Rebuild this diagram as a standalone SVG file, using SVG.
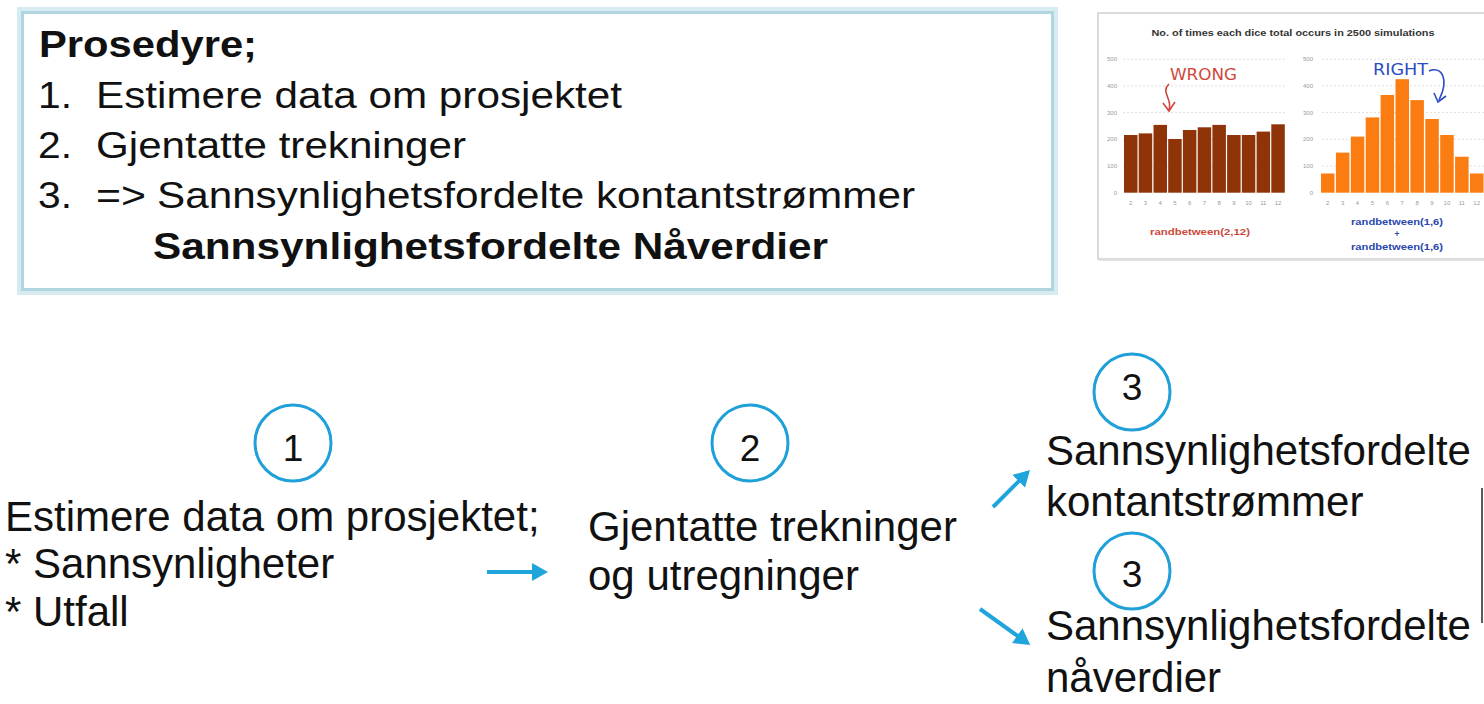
<svg xmlns="http://www.w3.org/2000/svg" width="1484" height="704" viewBox="0 0 1484 704">
<defs>
<style>
.t{font-family:"Liberation Sans",Arial,sans-serif;fill:#111}
.top{font-size:37px}
.b{font-weight:bold}
.big{font-size:42px}
.num{font-size:37px;text-anchor:middle}
.circ{fill:none;stroke:#1fa0d8;stroke-width:3}
.conn{stroke:#1fa5dc;stroke-width:4;fill:none}
.ax{font-family:"Liberation Sans",Arial,sans-serif;font-size:6px;fill:#9a9a9a}
.grid{stroke:#d8d8d8;stroke-width:0.8;stroke-dasharray:2 2}
.wr{fill:#8f3409}
.rt{fill:#fb7d12}
.hand{font-family:"DejaVu Sans Condensed","DejaVu Sans",sans-serif}
</style>
<marker id="ah" markerUnits="userSpaceOnUse" markerWidth="16" markerHeight="18" viewBox="0 0 16 18" refX="4" refY="9" orient="auto">
<path d="M0,0 L16,9 L0,18 z" fill="#1fa5dc"/>
</marker>
</defs>
<rect width="1484" height="704" fill="#ffffff"/>

<g id="procedure-box">
<rect x="19" y="9" width="1037" height="284" fill="none" stroke="#d6ecf0" stroke-width="4"/>
<rect x="22.5" y="12.5" width="1030" height="277" fill="#ffffff" stroke="#b0d7df" stroke-width="3"/>
<text class="t top b" x="39" y="57" textLength="218" lengthAdjust="spacingAndGlyphs">Prosedyre;</text>
<text class="t top" x="38" y="108" textLength="34" lengthAdjust="spacingAndGlyphs">1.</text>
<text class="t top" x="96" y="108" textLength="526" lengthAdjust="spacingAndGlyphs">Estimere data om prosjektet</text>
<text class="t top" x="38" y="158" textLength="34" lengthAdjust="spacingAndGlyphs">2.</text>
<text class="t top" x="96" y="158" textLength="370" lengthAdjust="spacingAndGlyphs">Gjentatte trekninger</text>
<text class="t top" x="38" y="208" textLength="34" lengthAdjust="spacingAndGlyphs">3.</text>
<text class="t top" x="96" y="208" textLength="50" lengthAdjust="spacingAndGlyphs">=&gt;</text>
<text class="t top" x="157" y="208" textLength="758" lengthAdjust="spacingAndGlyphs">Sannsynlighetsfordelte kontantstrømmer</text>
<text class="t top b" x="153" y="259" textLength="675" lengthAdjust="spacingAndGlyphs">Sannsynlighetsfordelte Nåverdier</text>
</g>

<g id="dice-chart">
<rect x="1098" y="13" width="390" height="246" fill="#ffffff" stroke="#c4c4c4" stroke-width="1.2"/>
<line x1="1099" y1="260" x2="1484" y2="260" stroke="#dcdcdc" stroke-width="1.5"/>
<text x="1293" y="36" text-anchor="middle" font-family="Liberation Sans, Arial, sans-serif" font-size="9" font-weight="bold" fill="#333" textLength="283" lengthAdjust="spacingAndGlyphs">No. of times each dice total occurs in 2500 simulations</text>
<g>
<line class="grid" x1="1123" y1="59.2" x2="1287" y2="59.2"/>
<line class="grid" x1="1123" y1="85.9" x2="1287" y2="85.9"/>
<line class="grid" x1="1123" y1="112.6" x2="1287" y2="112.6"/>
<line class="grid" x1="1123" y1="139.3" x2="1287" y2="139.3"/>
<line class="grid" x1="1123" y1="166" x2="1287" y2="166"/>
<line class="grid" x1="1322" y1="59.2" x2="1484" y2="59.2"/>
<line class="grid" x1="1322" y1="85.9" x2="1484" y2="85.9"/>
<line class="grid" x1="1322" y1="112.6" x2="1484" y2="112.6"/>
<line class="grid" x1="1322" y1="139.3" x2="1484" y2="139.3"/>
<line class="grid" x1="1322" y1="166" x2="1484" y2="166"/>
</g>
<g class="ax" text-anchor="end">
<text x="1117" y="61">500</text><text x="1117" y="88">400</text><text x="1117" y="114.6">300</text><text x="1117" y="141.3">200</text><text x="1117" y="168">100</text><text x="1117" y="194.7">0</text>
<text x="1313" y="61">500</text><text x="1313" y="88">400</text><text x="1313" y="114.6">300</text><text x="1313" y="141.3">200</text><text x="1313" y="168">100</text><text x="1313" y="194.7">0</text>
</g>
<g class="wr">
<rect x="1124" y="135" width="13.5" height="57.7"/>
<rect x="1138.7" y="133.4" width="13.5" height="59.3"/>
<rect x="1153.5" y="124.9" width="13.5" height="67.8"/>
<rect x="1168.2" y="139" width="13.5" height="53.7"/>
<rect x="1182.9" y="130" width="13.5" height="62.7"/>
<rect x="1197.7" y="127.3" width="13.5" height="65.4"/>
<rect x="1212.4" y="124.9" width="13.5" height="67.8"/>
<rect x="1227.1" y="135" width="13.5" height="57.7"/>
<rect x="1241.8" y="135" width="13.5" height="57.7"/>
<rect x="1256.6" y="131.6" width="13.5" height="61.1"/>
<rect x="1271.3" y="124.3" width="13.5" height="68.4"/>
</g>
<g class="rt">
<rect x="1321" y="173.5" width="13.5" height="19.2"/>
<rect x="1335.9" y="152.6" width="13.5" height="40.1"/>
<rect x="1350.8" y="136.6" width="13.5" height="56.1"/>
<rect x="1365.7" y="117.4" width="13.5" height="75.3"/>
<rect x="1380.6" y="95" width="13.5" height="97.7"/>
<rect x="1395.5" y="79.2" width="13.5" height="113.5"/>
<rect x="1410.4" y="100.1" width="13.5" height="92.6"/>
<rect x="1425.3" y="119" width="13.5" height="73.7"/>
<rect x="1440.2" y="135" width="13.5" height="57.7"/>
<rect x="1455.1" y="156.7" width="13.5" height="36"/>
<rect x="1470" y="173.5" width="13.5" height="19.2"/>
</g>
<g class="ax" text-anchor="middle">
<text x="1130.7" y="205">2</text><text x="1145.4" y="205">3</text><text x="1160.2" y="205">4</text><text x="1174.9" y="205">5</text><text x="1189.6" y="205">6</text><text x="1204.4" y="205">7</text><text x="1219.1" y="205">8</text><text x="1233.8" y="205">9</text><text x="1248.5" y="205">10</text><text x="1263.3" y="205">11</text><text x="1278" y="205">12</text>
<text x="1327.7" y="205">2</text><text x="1342.6" y="205">3</text><text x="1357.5" y="205">4</text><text x="1372.4" y="205">5</text><text x="1387.3" y="205">6</text><text x="1402.2" y="205">7</text><text x="1417.1" y="205">8</text><text x="1432" y="205">9</text><text x="1446.9" y="205">10</text><text x="1461.8" y="205">11</text><text x="1476.7" y="205">12</text>
</g>
<text class="hand" x="1170" y="80" font-size="15" fill="#d0463a" textLength="67" lengthAdjust="spacingAndGlyphs">WRONG</text>
<path d="M1169,84 C1160,92 1173,99 1169,110" fill="none" stroke="#d0463a" stroke-width="1.6"/>
<path d="M1163,103 L1169,111 L1175,102" fill="none" stroke="#d0463a" stroke-width="1.6"/>
<text class="hand" x="1373" y="75" font-size="15" fill="#2b4cc4" textLength="55" lengthAdjust="spacingAndGlyphs">RIGHT</text>
<path d="M1429,71 C1441,66 1450,78 1439,100" fill="none" stroke="#2b4cc4" stroke-width="1.6"/>
<path d="M1434,93 L1438,102 L1446,96" fill="none" stroke="#2b4cc4" stroke-width="1.6"/>
<text x="1200" y="235" text-anchor="middle" font-family="Liberation Sans, Arial, sans-serif" font-size="8.5" font-weight="bold" fill="#cc4a3c" textLength="100" lengthAdjust="spacingAndGlyphs">randbetween(2,12)</text>
<text x="1397" y="225" text-anchor="middle" font-family="Liberation Sans, Arial, sans-serif" font-size="8.5" font-weight="bold" fill="#2a48b0" textLength="92" lengthAdjust="spacingAndGlyphs">randbetween(1,6)</text>
<text x="1397" y="237" text-anchor="middle" font-family="Liberation Sans, Arial, sans-serif" font-size="8.5" font-weight="bold" fill="#2a48b0">+</text>
<text x="1397" y="250" text-anchor="middle" font-family="Liberation Sans, Arial, sans-serif" font-size="8.5" font-weight="bold" fill="#2a48b0" textLength="92" lengthAdjust="spacingAndGlyphs">randbetween(1,6)</text>
</g>

<g id="step1">
<circle class="circ" cx="293" cy="443" r="38"/>
<text class="t num" x="293" y="461">1</text>
<text class="t big" x="5" y="531">Estimere data om prosjektet;</text>
<text class="t big" x="5" y="578">* Sannsynligheter</text>
<text class="t big" x="5" y="626">* Utfall</text>
</g>

<g id="step2">
<circle class="circ" cx="750" cy="443" r="38"/>
<text class="t num" x="750" y="461">2</text>
<text class="t big" x="588" y="541">Gjentatte trekninger</text>
<text class="t big" x="588" y="590">og utregninger</text>
</g>

<g id="step3a">
<circle class="circ" cx="1132" cy="392" r="38"/>
<text class="t num" x="1132" y="400">3</text>
<text class="t big" x="1046" y="465">Sannsynlighetsfordelte</text>
<text class="t big" x="1046" y="516">kontantstrømmer</text>
</g>

<g id="step3b">
<circle class="circ" cx="1132" cy="571" r="38"/>
<text class="t num" x="1132" y="587">3</text>
<text class="t big" x="1046" y="640">Sannsynlighetsfordelte</text>
<text class="t big" x="1046" y="692">nåverdier</text>
</g>

<g id="connectors">
<line class="conn" x1="487" y1="572" x2="536" y2="572" marker-end="url(#ah)"/>
<line class="conn" x1="993" y1="507" x2="1021.5" y2="478.5" marker-end="url(#ah)"/>
<line class="conn" x1="980" y1="609" x2="1020.5" y2="638" marker-end="url(#ah)"/>
</g>

<line x1="1482" y1="488" x2="1482" y2="623" stroke="#5a5a5a" stroke-width="2"/>
</svg>
